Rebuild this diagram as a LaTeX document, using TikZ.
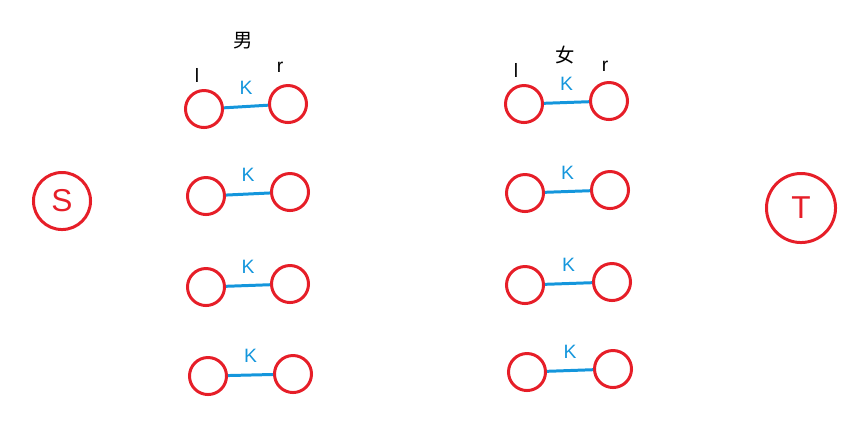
\documentclass[tikz,border=0pt]{standalone}
\usepackage{fontspec}
\setmainfont{Liberation Sans}
\newfontfamily\cjk{Noto Sans CJK SC}
\usetikzlibrary{positioning}
\definecolor{penred}{RGB}{230,30,40}
\definecolor{penblue}{RGB}{20,150,220}

\begin{document}
\begin{tikzpicture}[x=0.01cm,y=-0.01cm,
		vert/.style={circle,draw=penred,line width=0.85pt,minimum size=0.37cm,inner sep=0pt},
		term/.style={circle,draw=penred,line width=0.85pt,inner sep=0pt,text=penred,font=\fontsize{9}{10}\selectfont},
		edgek/.style={draw=penblue,line width=0.85pt},
		klab/.style={text=penblue,font=\fontsize{5.5}{6}\selectfont,inner sep=1pt},
		lab/.style={font=\fontsize{5.5}{6}\selectfont,inner sep=1pt}]
		\useasboundingbox (0,0) rectangle (864,420);
		
		\node[term,minimum size=0.57cm] (S) at (62,201) {S};
		\node[term,minimum size=0.69cm] (T) at (801,208) {T};
		
		% left side
		\foreach \i/\xa/\ya/\xb/\yb in {1/204/109/288/104, 2/206/196/290/192, 3/206/287/290/284, 4/208/376/293/374}{
			\node[vert] (ml\i) at (\xa,\ya) {};
			\node[vert] (mr\i) at (\xb,\yb) {};
			\draw[edgek] (ml\i) -- (mr\i) node[midway,klab,above=2pt] {K};
		}
		% right side
		\foreach \i/\xa/\ya/\xb/\yb in {1/524/104/609/101, 2/525/193/610/190, 3/525/285/612/282, 4/527/372/613/369}{
			\node[vert] (wl\i) at (\xa,\ya) {};
			\node[vert] (wr\i) at (\xb,\yb) {};
			\draw[edgek] (wl\i) -- (wr\i) node[midway,klab,above=2pt] {K};
		}
		
		\node[lab,font=\fontsize{5.5}{6}\selectfont\cjk] (men) at (243,41) {男};
		\node[lab] (ml) at (197,75) {l};
		\node[lab] (mr) at (280,67) {r};
		\node[lab,font=\fontsize{5.5}{6}\selectfont\cjk] (women) at (565,55) {女};
		\node[lab] (wl) at (516,70) {l};
		\node[lab] (wr) at (605,66) {r};
	\end{tikzpicture}
\end{document}
